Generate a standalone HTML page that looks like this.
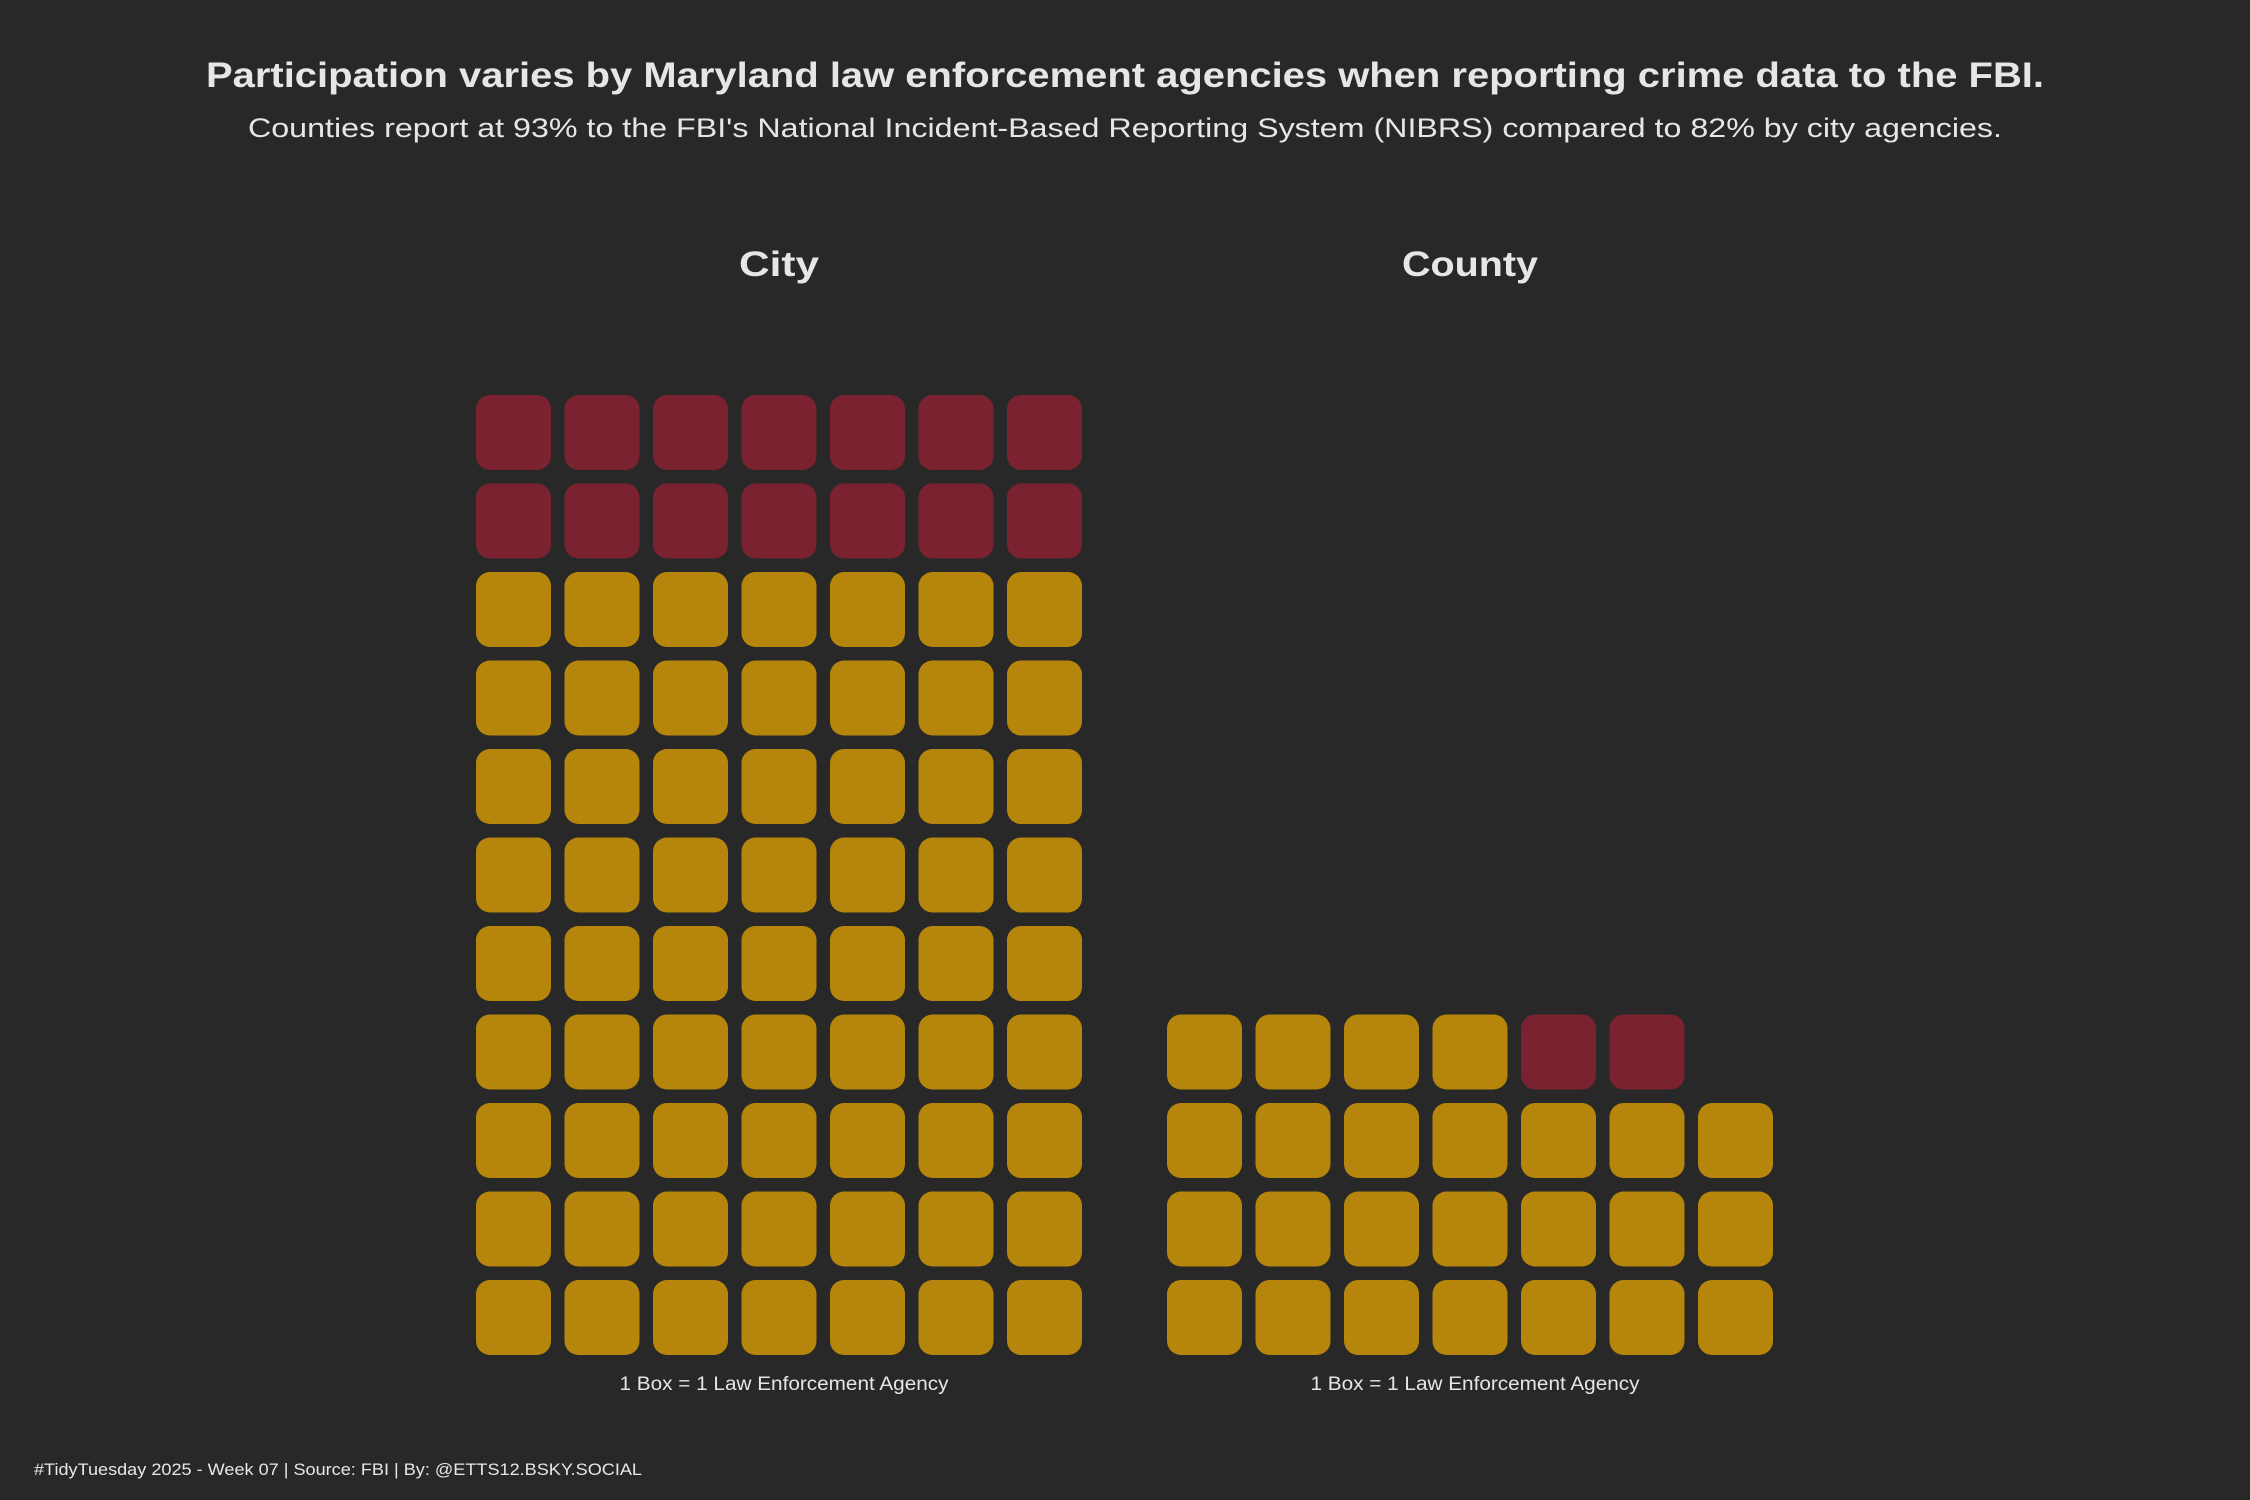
<!DOCTYPE html>
<html><head><meta charset="utf-8">
<style>
body{margin:0;background:#282828;}
svg{display:block;}
text{font-family:"Liberation Sans",sans-serif;fill:#e6e6e6;}
</style></head>
<body>
<svg id="chart" width="2250" height="1500" viewBox="0 0 2250 1500">
<rect width="2250" height="1500" fill="#282828"/>
<text x="1125" y="87" text-anchor="middle" font-size="35" font-weight="bold" textLength="1838" lengthAdjust="spacingAndGlyphs">Participation varies by Maryland law enforcement agencies when reporting crime data to the FBI.</text>
<text x="1125" y="137" text-anchor="middle" font-size="27" textLength="1754" lengthAdjust="spacingAndGlyphs">Counties report at 93% to the FBI's National Incident-Based Reporting System (NIBRS) compared to 82% by city agencies.</text>
<text x="34" y="1475" font-size="17" textLength="608" lengthAdjust="spacingAndGlyphs">#TidyTuesday 2025 - Week 07 | Source: FBI | By: @ETTS12.BSKY.SOCIAL</text>
<g id="panels"></g>
</svg>
<script>
const panelNames = ["City", "County"];
const participating = [63, 25];
const notParticipating = [14, 2];

const colors = {yes: "#b5860b", no: "#7a2230"};
const titleLen = [80, 136];
const ncol = 7, pitch = 88.5, box = 75, bottom = 1355;
const panelX = [476, 1167];
const svgNS = "http://www.w3.org/2000/svg";
const g = document.getElementById("panels");
panelNames.forEach((name, p) => {
  const x0 = panelX[p];
  const cx = x0 + (ncol * pitch - (pitch - box)) / 2;
  const t = document.createElementNS(svgNS, "text");
  t.setAttribute("x", cx); t.setAttribute("y", 276);
  t.setAttribute("text-anchor", "middle"); t.setAttribute("font-size", "35"); t.setAttribute("font-weight", "bold");
  t.setAttribute("textLength", titleLen[p]); t.setAttribute("lengthAdjust", "spacingAndGlyphs");
  t.textContent = name;
  
  
  g.appendChild(t);
  const total = participating[p] + notParticipating[p];
  for (let i = 0; i < total; i++) {
    const col = i % ncol, row = Math.floor(i / ncol);
    const r = document.createElementNS(svgNS, "rect");
    r.setAttribute("x", x0 + col * pitch);
    r.setAttribute("y", bottom - box - row * pitch);
    r.setAttribute("width", box); r.setAttribute("height", box);
    r.setAttribute("rx", 14);
    const yes = i < participating[p];
    r.setAttribute("fill", yes ? colors.yes : colors.no);
    
    
    g.appendChild(r);
  }
  const c = document.createElementNS(svgNS, "text");
  c.setAttribute("x", cx + 5); c.setAttribute("y", 1390);
  c.setAttribute("text-anchor", "middle"); c.setAttribute("font-size", "19");
  c.setAttribute("textLength", "329"); c.setAttribute("lengthAdjust", "spacingAndGlyphs");
  c.textContent = "1 Box = 1 Law Enforcement Agency";
  
  
  g.appendChild(c);
});
</script>
</body></html>
